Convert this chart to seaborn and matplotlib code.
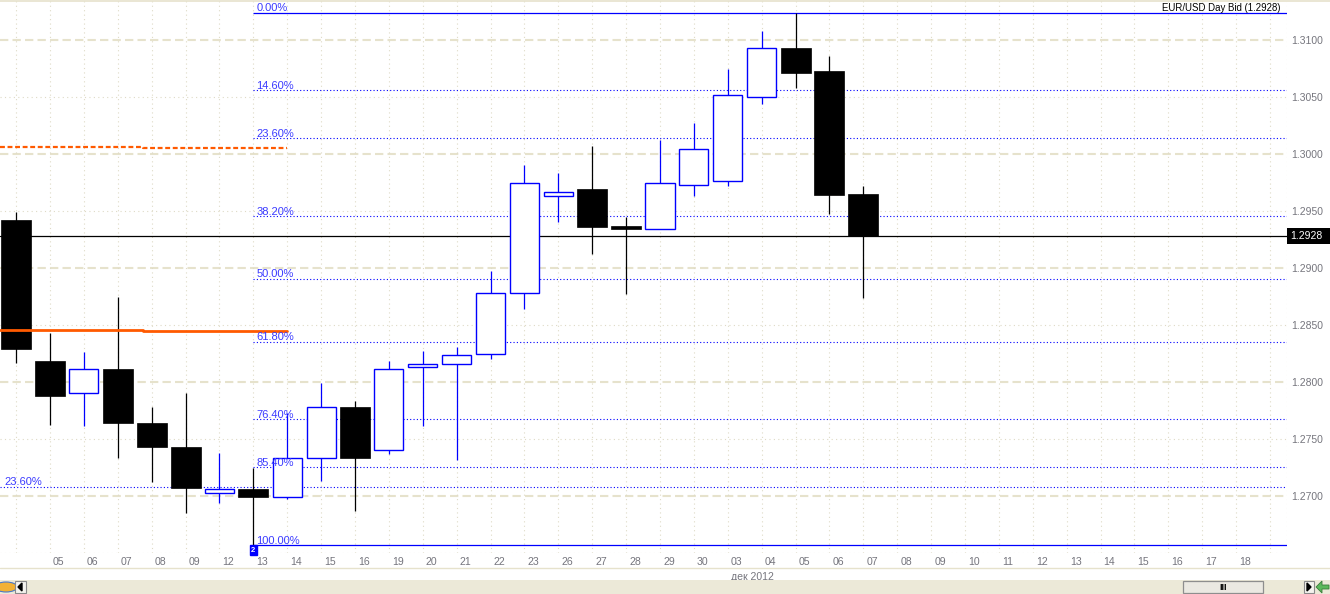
import numpy as np
import pandas as pd
import matplotlib
matplotlib.use("Agg")
import matplotlib.pyplot as plt
import matplotlib.transforms as mtransforms
from matplotlib.patches import Rectangle, Polygon, Circle
import seaborn as sns

# ---------------- data ----------------
candle_days = ["02", "05", "06", "07", "08", "09", "12", "13", "14", "15", "16",
               "19", "20", "21", "22", "23", "26", "27", "28", "29", "30",
               "03", "04", "05", "06", "07"]
future_days = ["08", "09", "10", "11", "12", "13", "14", "15", "16", "17", "18"]

opens  = [1.2942, 1.2818, 1.2790, 1.2811, 1.2764, 1.2743, 1.2703, 1.2706, 1.2699, 1.2733, 1.2778,
          1.2740, 1.2813, 1.2816, 1.2825, 1.2878, 1.2963, 1.2969, 1.2937, 1.2934, 1.2973,
          1.2976, 1.3050, 1.3093, 1.3073, 1.2965]
highs  = [1.2949, 1.2843, 1.2826, 1.2875, 1.2778, 1.2790, 1.2738, 1.2725, 1.2773, 1.2799, 1.2783,
          1.2818, 1.2827, 1.2831, 1.2897, 1.2990, 1.2983, 1.3007, 1.2945, 1.3012, 1.3027,
          1.3075, 1.3108, 1.3124, 1.3086, 1.2972]
lows   = [1.2817, 1.2762, 1.2761, 1.2733, 1.2712, 1.2685, 1.2694, 1.2657, 1.2697, 1.2713, 1.2687,
          1.2737, 1.2761, 1.2732, 1.2820, 1.2864, 1.2940, 1.2912, 1.2877, 1.2934, 1.2963,
          1.2972, 1.3044, 1.3058, 1.2947, 1.2874]
closes = [1.2829, 1.2788, 1.2811, 1.2764, 1.2743, 1.2707, 1.2706, 1.2699, 1.2733, 1.2778, 1.2733,
          1.2811, 1.2816, 1.2824, 1.2878, 1.2975, 1.2967, 1.2936, 1.2934, 1.2975, 1.3004,
          1.3052, 1.3093, 1.3071, 1.2964, 1.2928]

fib_high = 1.3124
fib_low = 1.2657
fib_ratios = [0.0, 0.146, 0.236, 0.382, 0.500, 0.618, 0.764, 0.854, 1.0]
fib_labels = ["0.00%", "14.60%", "23.60%", "38.20%", "50.00%", "61.80%", "76.40%", "85.40%", "100.00%"]
fib_start_index = 7          # anchored at the 13 Nov candle

left_fib_level = 1.2708
left_fib_label = "23.60%"

last_close = 1.2928
title_text = "EUR/USD Day Bid (1.2928)"
month_label = "дек 2012"
month_start_index = 21

orange_x = [-0.475, 3.75, 3.75, 8.0]
orange_solid_y = [1.2846, 1.2846, 1.2845, 1.2845]
orange_dash_y = [1.3006, 1.3006, 1.3005, 1.3005]

y_ticks = [1.2700, 1.2750, 1.2800, 1.2850, 1.2900, 1.2950, 1.3000, 1.3050, 1.3100]
major_grid = [1.2700, 1.2800, 1.2900, 1.3000, 1.3100]
minor_grid = [1.2650, 1.2750, 1.2850, 1.2950, 1.3050]

# ---------------- styling ----------------
sns.set_style("white")
plt.rcParams["font.family"] = ["Liberation Sans", "DejaVu Sans"]

W, H = 1330, 594
fig = plt.figure(figsize=(W / 100, H / 100), dpi=100)
fig.patch.set_facecolor("white")

def fx(p):
    return p / W

def fy(p):
    return 1 - p / H

ax = fig.add_axes([0, fy(553), fx(1287), 553 / H])
ax.set_facecolor("white")
for s in ax.spines.values():
    s.set_visible(False)

n = len(candle_days)
all_days = candle_days + future_days
xs = np.arange(n)

ax.set_xlim(-0.475, 37.5)
ax.set_ylim(1.2650, 1.31351)

BLUE = "#0000ff"
GRID = "#e6e2cc"
GRAY = "#75757d"

# grid
for g in major_grid:
    ax.axhline(g, color=GRID, lw=1.5, ls=(0, (4, 2)), zorder=0)
for g in minor_grid:
    ax.axhline(g, color="#dedac6", lw=0.8, ls=(0, (1, 3)), zorder=0)
for i in range(len(all_days) + 1):
    ax.axvline(i, color="#dedac6", lw=0.8, ls=(0, (1, 3)), zorder=0)
ax.axvline(37.5, color="#dedac6", lw=0.8, ls=(0, (1, 3)), zorder=0)

# fibonacci levels
rng = fib_high - fib_low
lab_tr = mtransforms.offset_copy(ax.transData, fig=fig, x=3, y=1.5, units="dots")
for r, lab in zip(fib_ratios, fib_labels):
    lvl = fib_high - r * rng
    style = "-" if r in (0.0, 1.0) else (0, (1, 2))
    ax.plot([fib_start_index, 37.5], [lvl, lvl], color=BLUE, lw=0.9 if r in (0.0, 1.0) else 0.8,
            ls=style, zorder=2, solid_capstyle="butt")
    ax.text(fib_start_index, lvl, lab, transform=lab_tr, color="#3a3aff", fontsize=8,
            ha="left", va="baseline", zorder=6)

ax.plot([-0.475, 37.5], [left_fib_level, left_fib_level], color=BLUE, lw=0.8, ls=(0, (1, 2)), zorder=2)
left_tr = mtransforms.offset_copy(ax.transData, fig=fig, x=4, y=1.5, units="dots")
ax.text(-0.475, left_fib_level, left_fib_label, transform=left_tr, color="#3a3aff", fontsize=8,
        ha="left", va="baseline", zorder=6)

# orange indicator lines (seaborn)
sns.lineplot(x=orange_x, y=orange_solid_y, ax=ax, color="#ff5a00", lw=2.0, sort=False,
             estimator=None, zorder=5)
sns.lineplot(x=orange_x, y=orange_dash_y, ax=ax, color="#ff5a00", lw=1.6, sort=False,
             estimator=None, zorder=5, linestyle=(0, (2.2, 1.2)))

# last close line
ax.axhline(last_close, color="black", lw=0.9, zorder=3)

# candles
o = np.array(opens); c = np.array(closes); h = np.array(highs); l = np.array(lows)
bull = c >= o
wick_colors = np.where(bull, BLUE, "black")
ax.vlines(xs, l, h, colors=wick_colors, lw=0.9, zorder=3)
body_w = 0.885
bottoms = np.minimum(o, c)
heights = np.maximum(np.abs(c - o), 0.00025)
ax.bar(xs[bull], heights[bull], bottom=bottoms[bull], width=body_w * 0.97,
       facecolor="white", edgecolor=BLUE, linewidth=1.0, zorder=4)
ax.bar(xs[~bull], heights[~bull], bottom=bottoms[~bull], width=body_w,
       facecolor="black", edgecolor="black", linewidth=0.5, zorder=4)

# right axis labels
ax.yaxis.tick_right()
ax.set_yticks(y_ticks)
ax.set_yticklabels([f"{t:.4f}" for t in y_ticks])
ax.tick_params(axis="y", length=0, pad=3, labelcolor=GRAY, labelsize=7.5)
ax.set_xticks([])
ax.set_xlabel("")
ax.set_ylabel("")

# last close price box
bt = mtransforms.blended_transform_factory(fig.transFigure, ax.transData)
box_h = 16 / 11400
fig.add_artist(Rectangle((fx(1287), last_close - box_h / 2), 1 - fx(1287), box_h,
                         transform=bt, facecolor="black", edgecolor="none", zorder=10))
fig.text(fx(1290), last_close, f"{last_close:.4f}", transform=bt, color="white",
         fontsize=7.5, ha="left", va="center", zorder=11)

# date labels
dt = mtransforms.blended_transform_factory(ax.transData, fig.transFigure)
dt_off = mtransforms.offset_copy(dt, fig=fig, x=3, y=0, units="dots")
for i, d in enumerate(all_days):
    if i == 0:
        continue
    ax.text(i, fy(562), d, transform=dt_off, color=GRAY, fontsize=7.6,
            ha="left", va="center", clip_on=False)
ax.text(month_start_index, fy(577), month_label, transform=dt_off, color=GRAY, fontsize=7.6,
        ha="left", va="center", clip_on=False)

# small marker under the 100% anchor
ax.text(fib_start_index, fy(550), "2", transform=dt, color="white", fontsize=5.5,
        fontweight="bold", ha="center", va="center", clip_on=False, zorder=8,
        bbox=dict(boxstyle="square,pad=0.15", facecolor=BLUE, edgecolor=BLUE))

# title
fig.text(fx(1281), fy(11), title_text, color="black", fontsize=6.9, ha="right", va="baseline")

# top border
fig.add_artist(plt.Line2D([0, 1], [fy(0.5), fy(0.5)], transform=fig.transFigure, color=GRID, lw=1.2))
# bottom separator and scrollbar
fig.add_artist(plt.Line2D([0, 1], [fy(568), fy(568)], transform=fig.transFigure, color=GRID, lw=1))
fig.add_artist(Rectangle((0, 0), 1, 14 / H, transform=fig.transFigure, facecolor="#ece9d8",
                         edgecolor="none"))
# left: globe + button
fig.add_artist(Circle((fx(6), fy(587)), 5 / H, transform=fig.transFigure, facecolor="#f2b134",
                      edgecolor="#4a78c8", lw=0.8))
fig.add_artist(Rectangle((fx(15), fy(593)), fx(11), 12 / H, transform=fig.transFigure,
                         facecolor="#f4f3ee", edgecolor="#8a8a8a", lw=0.8))
fig.add_artist(Polygon([[fx(18), fy(587)], [fx(22), fy(583)], [fx(22), fy(591)]], closed=True,
                       transform=fig.transFigure, facecolor="black", edgecolor="black"))
# thumb
fig.add_artist(Rectangle((fx(1183), fy(593)), fx(80), 12 / H, transform=fig.transFigure,
                         facecolor="#ebe9e2", edgecolor="#8e8e8e", lw=0.9))
fig.text(fx(1223), fy(587), "III", transform=fig.transFigure, fontsize=6.5, fontweight="bold",
         ha="center", va="center", color="black")
# right: button + green arrow
fig.add_artist(Rectangle((fx(1304), fy(593)), fx(10), 12 / H, transform=fig.transFigure,
                         facecolor="#f4f3ee", edgecolor="#8a8a8a", lw=0.8))
fig.add_artist(Polygon([[fx(1307), fy(583)], [fx(1311), fy(587)], [fx(1307), fy(591)]], closed=True,
                       transform=fig.transFigure, facecolor="black", edgecolor="black"))
fig.add_artist(Polygon([[fx(1316), fy(587)], [fx(1322), fy(581)], [fx(1322), fy(585)],
                        [fx(1329), fy(585)], [fx(1329), fy(589)], [fx(1322), fy(589)],
                        [fx(1322), fy(593)]], closed=True, transform=fig.transFigure,
                       facecolor="#5cb85c", edgecolor="#3a7a3a", lw=0.6))

fig.savefig("out.png", dpi=100)
